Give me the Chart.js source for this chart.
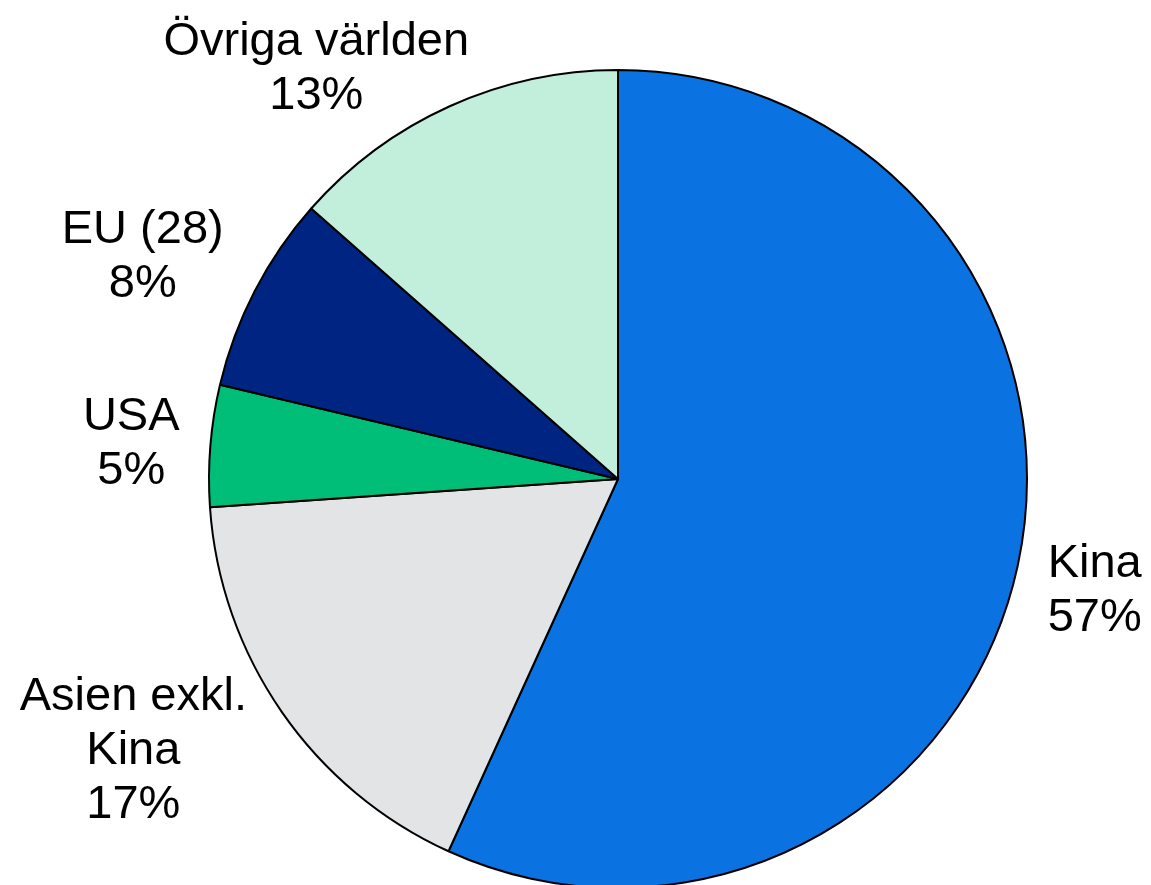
<!DOCTYPE html>
<html lang="sv">
<head>
<meta charset="utf-8">
<title>Andel per region</title>
<script src="https://cdn.jsdelivr.net/npm/chart.js@4/dist/chart.umd.min.js"></script>
<style>
  html, body { margin: 0; padding: 0; background: #fff; overflow: hidden; }
  #ram { position: relative; width: 1151px; height: 890px; }
</style>
</head>
<body>
<div id="ram"><canvas id="diagram"></canvas></div>
<script>
// data (sektorernas vinklar), etiketterna är avrundade så att de summerar till 100
const regioner = [['Kina'], ['Asien exkl.', 'Kina'], ['USA'], ['EU (28)'], ['Övriga världen']];
const andelar = [56.8, 17.1, 4.8, 7.8, 13.5];
const etikettProcent = [57, 17, 5, 8, 13];
const farger = ['#0B72E1', '#E3E4E6', '#00BD77', '#002482', '#C2EFDC'];

// etikettplacering: [radiefaktor, vinkeljustering i grader]
const etikettLage = [[1.195, 0.5], [1.354, 5.8], [1.194, -0.1], [1.287, -1.9], [1.252, -11.8]];

const FONT = 47;
const RADHOJD = 54;

const etiketter = {
  id: 'etiketter',
  afterDatasetsDraw(chart) {
    const ctx = chart.ctx;
    const meta = chart.getDatasetMeta(0);
    ctx.save();
    ctx.font = FONT + 'px "Liberation Sans", Arial, sans-serif';
    ctx.fillStyle = '#000';
    ctx.textAlign = 'center';
    ctx.textBaseline = 'alphabetic';
    meta.data.forEach((arc, i) => {
      const { x, y, startAngle, endAngle, outerRadius } = arc.getProps(['x', 'y', 'startAngle', 'endAngle', 'outerRadius'], true);
      const [faktor, just] = etikettLage[i];
      const vinkel = (startAngle + endAngle) / 2 + just * Math.PI / 180;
      const cx = x + Math.cos(vinkel) * outerRadius * faktor;
      const cy = y + Math.sin(vinkel) * outerRadius * faktor;
      const rader = regioner[i].concat([etikettProcent[i] + '%']);
      const topp = cy - (rader.length - 1) * RADHOJD / 2;
      rader.forEach((rad, j) => {
        ctx.fillText(rad, cx, topp + j * RADHOJD + FONT * 0.358);
      });
    });
    ctx.restore();
  }
};

new Chart(document.getElementById('diagram'), {
  type: 'pie',
  data: {
    labels: regioner.map(r => r.join(' ')),
    datasets: [{
      data: andelar,
      backgroundColor: farger,
      borderColor: '#000',
      borderWidth: 2,
      hoverOffset: 0,
      radius: 409
    }]
  },
  options: {
    responsive: true,
    maintainAspectRatio: false,
    animation: false,
    layout: { padding: { top: 69, bottom: 1, left: 208, right: 123 } },
    plugins: {
      legend: { display: false },
      tooltip: { enabled: false }
    }
  },
  plugins: [etiketter]
});
</script>
</body>
</html>
